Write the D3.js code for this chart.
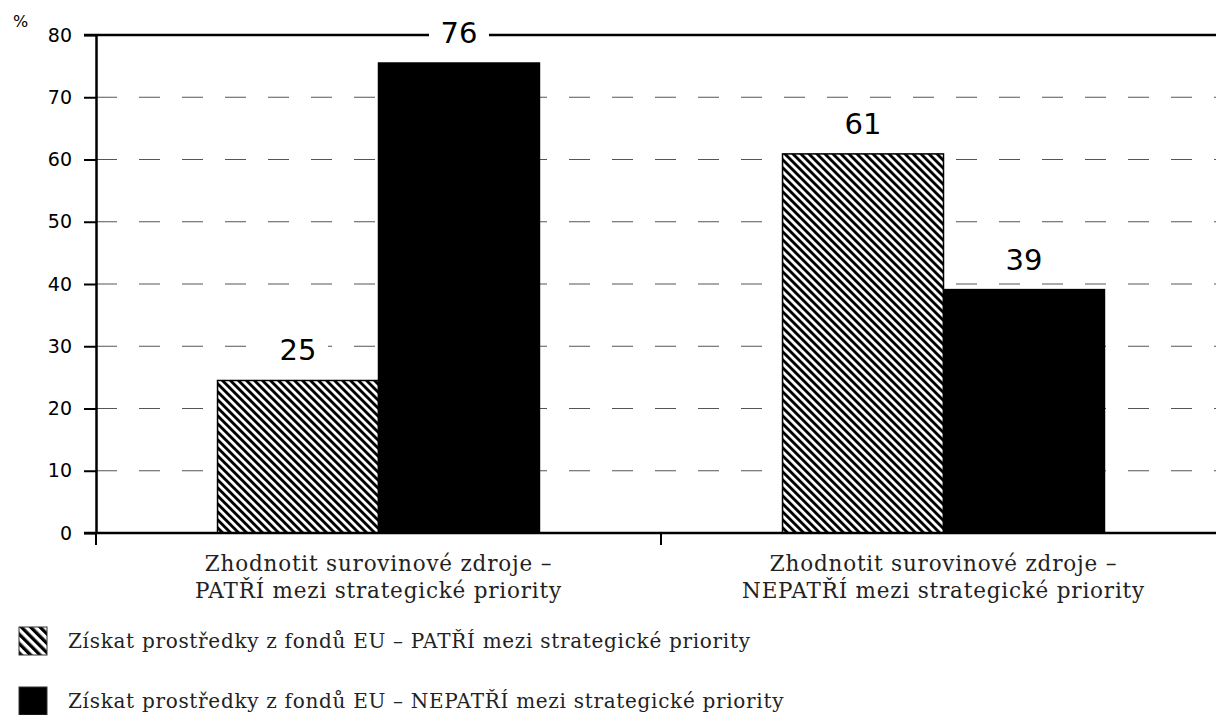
<!DOCTYPE html>
<html><head><meta charset="utf-8">
<script src="https://cdn.jsdelivr.net/npm/d3@7"></script>
<style>body{margin:0;background:#fff}svg{display:block}</style>
</head><body>
<svg id="c" width="1216" height="715"></svg>
<script>
const categories = ["Zhodnotit surovinové zdroje –\nPATŘÍ mezi strategické priority",
                    "Zhodnotit surovinové zdroje –\nNEPATŘÍ mezi strategické priority"];
const seriesNames = ["Získat prostředky z fondů EU – PATŘÍ mezi strategické priority",
                     "Získat prostředky z fondů EU – NEPATŘÍ mezi strategické priority"];
const patriValues = [24.5, 60.9];
const nepatriValues = [75.5, 39.1];
const valueLabels = [["25", "76"], ["61", "39"]];
const yTicks = [0, 10, 20, 30, 40, 50, 60, 70, 80];

const svg = d3.select("#c");
const L = 96, T = 35, B = 533, R = 1216;
const y = d3.scaleLinear().domain([0, 80]).range([B, T]);
const x = d3.scaleBand().domain(categories).range([L, L + 2 * 565]).padding(0);
const x1 = d3.scaleBand().domain([0, 1]).range([0, x.bandwidth()]).paddingInner(0).paddingOuter(0.755);

const defs = svg.append("defs");
function hatch(id, p, w) {
  const pat = defs.append("pattern").attr("id", id).attr("patternUnits", "userSpaceOnUse")
    .attr("width", p).attr("height", 10).attr("patternTransform", "rotate(-45)");
  pat.append("rect").attr("width", p).attr("height", 10).attr("fill", "#fff");
  pat.append("rect").attr("width", w).attr("height", 10).attr("fill", "#000");
}
hatch("hatch", 5.66, 2.9);
hatch("hatchLeg", 6.6, 3.3);

// gridlines
svg.append("g").selectAll("line").data(yTicks.filter(v => v > 0 && v < 80)).join("line")
  .attr("x1", L).attr("x2", R).attr("y1", d => y(d)).attr("y2", d => y(d))
  .attr("stroke", "#555").attr("stroke-width", 1).attr("stroke-dasharray", "21,22");
// top solid line
svg.append("line").attr("x1", L - 12).attr("x2", R).attr("y1", y(80)).attr("y2", y(80))
  .attr("stroke", "#000").attr("stroke-width", 2.5);

// bars
const data = categories.map((c, i) => ({ c, vals: [patriValues[i], nepatriValues[i]], labels: valueLabels[i] }));
const g = svg.append("g").selectAll("g").data(data).join("g")
  .attr("transform", d => `translate(${x(d.c)},0)`);
g.selectAll("rect").data(d => d.vals).join("rect")
  .attr("x", (d, j) => x1(j)).attr("width", x1.bandwidth())
  .attr("y", d => y(d)).attr("height", d => B - y(d))
  .attr("fill", (d, j) => j === 0 ? "url(#hatch)" : "#000")
  .attr("stroke", "#000").attr("stroke-width", 1.5);

// value labels
const lab = g.selectAll("g.lab").data(d => d.vals.map((v, j) => ({ v, j, t: d.labels[j] }))).join("g").attr("class", "lab");
lab.append("rect")
  .attr("x", d => x1(d.j) + x1.bandwidth() / 2 - 30).attr("width", 60)
  .attr("y", d => y(d.v) - 48).attr("height", 34).attr("fill", "#fff");
lab.append("text")
  .attr("x", d => x1(d.j) + x1.bandwidth() / 2).attr("y", d => y(d.v) - 20)
  .attr("text-anchor", "middle").attr("font-family", "DejaVu Sans").attr("font-size", 29)
  .text(d => d.t);

// y axis
const ya = svg.append("g").attr("transform", `translate(${L},0)`)
  .call(d3.axisLeft(y).tickValues(yTicks).tickSize(12).tickPadding(12).tickSizeOuter(0));
ya.select(".domain").attr("stroke-width", 2.5);
ya.selectAll(".tick line").attr("stroke-width", 2);
ya.selectAll(".tick text").attr("font-family", "DejaVu Sans").attr("font-size", 19).attr("fill", "#000");
svg.append("text").attr("x", 13).attr("y", 27).attr("font-family", "DejaVu Sans").attr("font-size", 16).text("%");

// x axis
svg.append("line").attr("x1", L - 12).attr("x2", R).attr("y1", B).attr("y2", B)
  .attr("stroke", "#000").attr("stroke-width", 2.5);
svg.append("g").selectAll("line").data([L, L + 565, L + 1130]).join("line")
  .attr("x1", d => d).attr("x2", d => d).attr("y1", B).attr("y2", B + 12)
  .attr("stroke", "#000").attr("stroke-width", 2);
svg.append("g").selectAll("text").data(categories).join("text")
  .attr("x", d => x(d) + x.bandwidth() / 2).attr("y", 571)
  .attr("text-anchor", "middle").attr("font-family", "DejaVu Serif").attr("font-size", 21.5)
  .attr("letter-spacing", 0.8).attr("fill", "#222")
  .each(function (d) {
    const lines = d.split("\n");
    d3.select(this).selectAll("tspan").data(lines).join("tspan")
      .attr("x", x(d) + x.bandwidth() / 2).attr("dy", (l, k) => k ? 27 : 0).text(l => l);
  });

// legend
const leg = svg.append("g").selectAll("g").data(seriesNames).join("g")
  .attr("transform", (d, i) => `translate(19,${627 + i * 60})`);
leg.append("rect").attr("width", 28).attr("height", 28)
  .attr("fill", (d, i) => i === 0 ? "url(#hatchLeg)" : "#000").attr("stroke", "#333").attr("stroke-width", 1);
leg.append("text").attr("x", 49).attr("y", 21).attr("font-family", "DejaVu Serif").attr("font-size", 20)
  .attr("letter-spacing", 0.7).attr("fill", "#222").text(d => d);
</script>
</body></html>
